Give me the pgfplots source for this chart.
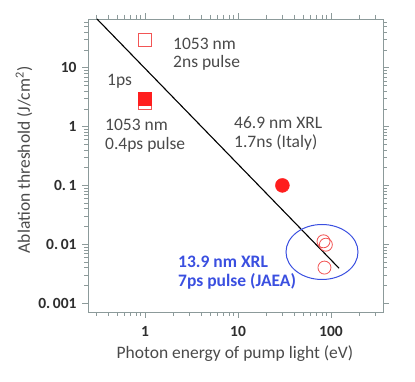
\documentclass[border=0pt]{standalone}
\usepackage{pgfplots}
\pgfplotsset{compat=1.18}
\usepackage{fontspec}
\setmainfont{Carlito}

\definecolor{axgray}{HTML}{8C9A9A}
\definecolor{tickc}{HTML}{2E2E2E}
\definecolor{labc}{HTML}{4A4A4A}
\definecolor{redc}{HTML}{FF1E1E}
\definecolor{redo}{HTML}{F25555}
\definecolor{bluec}{HTML}{3A4FE0}

\newcommand{\annfont}{\fontsize{17.5}{19}\selectfont}

\begin{document}
\begin{tikzpicture}[x=1pt,y=1pt]
\begin{axis}[
  at={(0,0)}, anchor=south west,
  scale only axis, width=295pt, height=293pt,
  xmode=log, ymode=log,
  xmin=0.244, xmax=362, ymin=0.000703, ymax=67.6,
  axis line style={axgray, line width=0.9pt},
  every tick/.style={axgray, line width=0.6pt},
  tick align=outside,
  major tick length=6pt, minor tick length=4pt,
  xtick={1,10,100}, xticklabels={1,10,100},
  minor xtick={0.3,0.4,0.5,0.6,0.7,0.8,0.9,2,3,4,5,6,7,8,9,20,30,40,50,60,70,80,90,200,300},
  ytick={0.001,0.01,0.1,1,10}, yticklabels={0.\,001,0.\,01,0.\,1,1,10},
  minor ytick={0.002,0.003,0.004,0.005,0.006,0.007,0.008,0.009,0.02,0.03,0.04,0.05,0.06,0.07,0.08,0.09,0.2,0.3,0.4,0.5,0.6,0.7,0.8,0.9,2,3,4,5,6,7,8,9,20,30,40,50,60},
  tick label style={font=\fontsize{15.5}{15.5}\selectfont\bfseries, text=tickc},
  xticklabel style={yshift=-5pt},
  yticklabel style={xshift=-2pt},
  xlabel={Photon energy of pump light (eV)},
  ylabel={Ablation threshold (J/cm\textsuperscript{2})},
  label style={font=\fontsize{17.5}{18}\selectfont, text=labc},
  xlabel style={at={(axis description cs:0.498,-0.157)}, anchor=base},
  ylabel style={at={(axis description cs:-0.197,0.519)}, anchor=base},
  clip=true,
]
% fitted line
\addplot[black, line width=1.1pt] coordinates {(0.305,67.6) (122,0.0039)};
% 1053 nm, open squares
\addplot[only marks, mark=square, mark size=6.3pt, mark options={draw=redo, line width=0.8pt}]
  coordinates {(1,30) (1,2.55)};
% 1053 nm, 0.4 ps, filled square
\addplot[only marks, mark=square*, mark size=6.3pt, mark options={fill=redc, draw=redc}]
  coordinates {(1,3.0)};
% 46.9 nm XRL
\addplot[only marks, mark=*, mark size=7pt, mark options={fill=redc, draw=redc}]
  coordinates {(30,0.1)};
% 13.9 nm XRL
\addplot[only marks, mark=o, mark size=6.5pt, mark options={draw=redo, line width=0.8pt}]
  coordinates {(83,0.0112) (88,0.0098) (85,0.0040)};
\end{axis}

\draw[bluec, line width=1pt] (234,60) ellipse [x radius=36, y radius=27.5];

\begin{scope}[every node/.style={anchor=base west, inner sep=0pt, text=labc, font=\annfont}]
\node at (85,262) {1053 nm};
\node at (85,244) {2ns pulse};
\node at (19,226) {1ps};
\node at (17,181) {1053 nm};
\node at (17,162) {0.4ps pulse};
\node at (146,183) {46.9 nm XRL};
\node at (146,164) {1.7ns (Italy)};
\node[text=bluec, font=\annfont\bfseries] at (90,44) {13.9 nm XRL};
\node[text=bluec, font=\annfont\bfseries] at (90,25) {7ps pulse (JAEA)};
\end{scope}

\pgfresetboundingbox
\path (-88,-70) rectangle (327,312);
\end{tikzpicture}
\end{document}
